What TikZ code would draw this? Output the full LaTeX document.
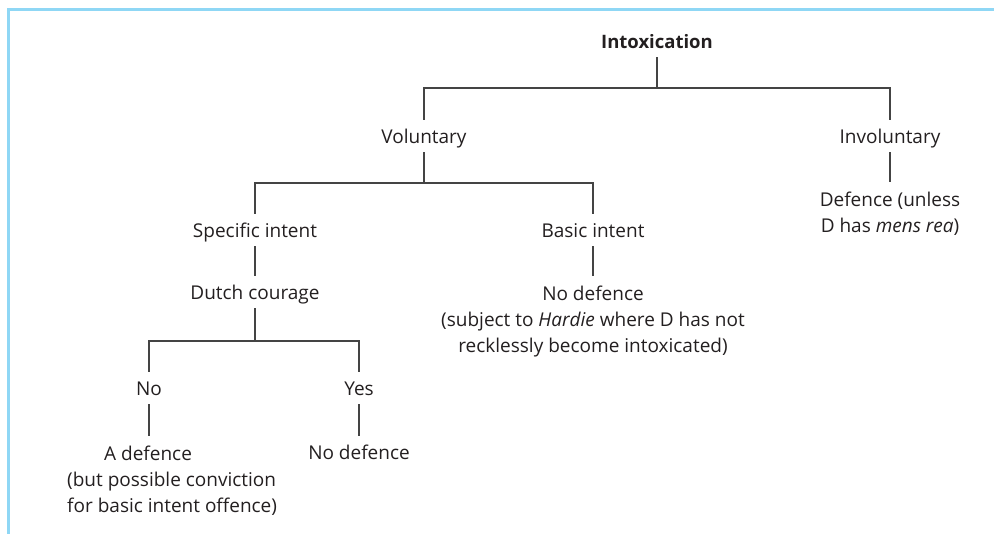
\documentclass[tikz,border=0pt]{standalone}
\usepackage{fontspec}
\setmainfont{Open Sans}
\usetikzlibrary{calc}
\definecolor{framecol}{HTML}{8FD7F5}
\definecolor{ink}{HTML}{231F20}
\definecolor{wirecol}{HTML}{444444}
\begin{document}
\begin{tikzpicture}[x=1pt,y=-1pt,
  font=\fontsize{19}{26}\selectfont, text=ink,
  lbl/.style={anchor=base, inner xsep=0pt, inner ysep=3pt, text height=15pt, text depth=5pt},
  blk/.style={anchor=north, inner sep=0pt, align=center},
  wire/.style={draw=wirecol, line width=1.4pt}]
\useasboundingbox (0,0) rectangle (994,534);
\draw[framecol, line width=3pt] (8.5,534) -- (8.5,10) -- (994,10);

\node[lbl, font=\fontsize{18.5}{26}\selectfont\bfseries] (intox) at (657,49) {Intoxication};
\node[lbl] (vol) at (424,144) {Voluntary};
\node[lbl] (invol) at (890,144) {Involuntary};
\node[blk] (invres) at (890,191.5) {Defence (unless\\D has \textit{mens rea})};
\node[lbl] (spec) at (255,238) {Specific intent};
\node[lbl] (basic) at (593,238) {Basic intent};
\node[blk] (basicres) at (593,285.5) {No defence\\(subject to \textit{Hardie} where D has not\\recklessly become intoxicated)};
\node[lbl] (dutch) at (255,300) {Dutch courage};
\node[lbl] (no) at (149,396) {No};
\node[lbl] (yes) at (359,396) {Yes};
\node[blk, anchor=north west, align=left] (nores) at (67,445.5) {\hspace{37pt}A defence\\(but possible conviction\\for basic intent offence)};
\node[lbl] (yesres) at (359,460) {No defence};

\coordinate (b1) at (657,88);
\coordinate (b2) at (424,183);
\coordinate (b3) at (255,341);

\draw[wire] (intox.south) -- (b1);
\draw[wire] ([yshift=6pt]vol.north) |- (b1) -| ([yshift=6pt]invol.north);
\draw[wire] (invol.south) -- ([yshift=9pt]invres.north);
\draw[wire] (vol.south) -- (b2);
\draw[wire] ([yshift=6pt]spec.north) |- (b2) -| ([yshift=6pt]basic.north);
\draw[wire] (basic.south) -- ([yshift=9pt]basicres.north);
\draw[wire] (spec.south) -- ([yshift=6pt]dutch.north);
\draw[wire] (dutch.south) -- (b3);
\draw[wire] ([yshift=6pt]no.north) |- (b3) -| ([yshift=6pt]yes.north);
\draw[wire] (no.south) -- ([yshift=9pt]nores.north -| no.south);
\draw[wire] (yes.south) -- ([yshift=6pt]yesres.north);
\end{tikzpicture}
\end{document}
